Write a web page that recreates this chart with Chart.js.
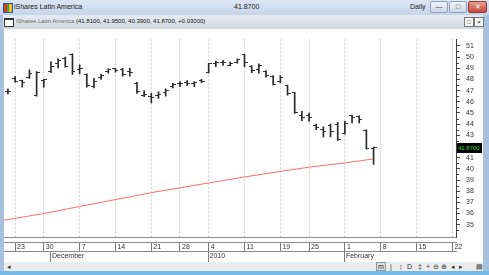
<!DOCTYPE html>
<html>
<head>
<meta charset="utf-8">
<script src="https://cdn.jsdelivr.net/npm/chart.js@4.4.1/dist/chart.umd.min.js"></script>
<style>
  html, body { margin: 0; padding: 0; }
  body {
    width: 489px; height: 275px; overflow: hidden; position: relative;
    background: #a7c0de;
    font-family: "Liberation Sans", Arial, sans-serif;
  }
  .abs { position: absolute; white-space: nowrap; }
  #titlebar { left: 0; top: 0; width: 489px; height: 15px; background: linear-gradient(#dbe6f3, #c5d5e9); }
  #titlebar .txt { font-size: 7px; color: #1b1b1b; top: 3px; }
  #appicon { left: 3px; top: 3px; width: 8px; height: 8px; border: 1px solid #3155a4;
    background: linear-gradient(90deg, #d8342c 0 33%, #3cae3c 33% 66%, #f0c020 66%); }
  .wbtn { top: 1px; height: 10px; border: 1px solid #8ea3bd; border-radius: 2px;
    background: linear-gradient(#eef3f9, #cdd9e8); font-size: 7px; line-height: 10px; text-align: center; color: #3a4a60; }
  #wclose { background: linear-gradient(#e8a090, #c9463a); border-color: #8e3a32; color: #fff; }
  #subbar { left: 3px; top: 15px; width: 480px; height: 14px; background: linear-gradient(#e6ebf1, #d2d9e2); }
  #subicon { left: 4px; top: 18px; width: 8px; height: 6px; border: 1px solid #333; border-top-width: 2px; background: #fff; }
  #subtxt { left: 16px; top: 18px; font-size: 6px; color: #6a6a6a; }
  #subtxt b { font-weight: normal; color: #111; }
  .sbtn { top: 17px; width: 8px; height: 8px; border: 1px solid #777; background: #f4f4f4;
    font-size: 6px; line-height: 8px; text-align: center; color: #222; }
  #chartbox { left: 4px; top: 29px; width: 479px; height: 233px; background: #fff; }
  #toolbar { left: 4px; top: 262px; width: 479px; height: 9px; background: #ececec; }
  #toolbar .ic { top: 0px; font-size: 7px; color: #333; line-height: 9px; }
  #bottomline { left: 0; top: 271px; width: 489px; height: 4px; background: #76b9e6; }
</style>
</head>
<body>
<div id="titlebar" class="abs">
  <div id="appicon" class="abs"></div>
  <div class="abs txt" style="left:14px;">iShares Latin America</div>
  <div class="abs txt" style="left:234px;">41.8700</div>
  <div class="abs txt" style="left:410px;">Daily</div>
  <div class="abs wbtn" style="left:430px; width:16px;">&#8212;</div>
  <div class="abs wbtn" style="left:449px; width:16px;">&#9633;</div>
  <div id="wclose" class="abs wbtn" style="left:468px; width:17px;">&#10005;</div>
</div>
<div id="subbar" class="abs"></div>
<div id="subicon" class="abs"></div>
<div id="subtxt" class="abs">iShares Latin America <b>(41.8100, 41.9500, 40.3900, 41.8700, +0.03000)</b></div>
<div class="abs sbtn" style="left:464px;">&#9633;</div>
<div class="abs sbtn" style="left:474px;">&#215;</div>
<div id="chartbox" class="abs"><canvas id="ohlcChart" width="479" height="233"></canvas></div>
<div id="toolbar" class="abs">
  <span class="abs ic" style="left:3px;">&#9666;</span>
  <span class="abs ic" style="left:372px; border:1px solid #999; background:#ddd; line-height:7px; padding:0 1px;">m</span>
  <span class="abs ic" style="left:386px;">|</span>
  <span class="abs ic" style="left:395px;">&#8597;</span>
  <span class="abs ic" style="left:403px;">D</span>
  <span class="abs ic" style="left:414px;">&#8225;</span>
  <span class="abs ic" style="left:422px;">+</span>
  <span class="abs ic" style="left:429px;">&#8854;</span>
  <span class="abs ic" style="left:437px;">&#8853;</span>
  <span class="abs ic" style="left:447px;">&#9666;</span>
  <span class="abs ic" style="left:455px;">&#9656;</span>
  <span class="abs ic" style="left:472px;">&#9636;</span>
</div>
<div id="bottomline" class="abs"></div>

<script>
// daily bars, Nov 20 2009 .. Feb 5 2010 (index = trading day)
const opens  = [46.9, 48.1, 47.9, 48.2, 46.6, 47.9, 48.7, 49.4, 49.9, 50.2,
                48.85, 48.4, 47.4, 48.15, 48.7, 48.95, 48.85, 48.75, 47.65, 46.6,
                46.5, 46.55, 46.8, 47.4, 47.6, 47.75, 47.6, 47.9, 48.6, 49.45,
                49.55, 49.25, 49.55, 50.2, 49.15, 48.85, 48.7, 48.3, 47.85, 47.45,
                46.8, 44.75, 44.8, 43.9, 43.5, 43.9, 44.0, 43.15, 44.75, 44.65,
                43.45, 41.81];
const highs  = [47.15, 48.25, 47.95, 48.85, 48.7, 48.0, 49.6, 49.85, 50.0, 50.3,
                49.3, 48.5, 48.1, 48.45, 48.95, 49.0, 49.0, 49.0, 47.75, 47.0,
                46.75, 46.9, 47.15, 47.65, 47.8, 47.9, 47.8, 48.0, 49.45, 49.65,
                49.7, 49.55, 49.85, 50.25, 49.25, 49.4, 48.8, 48.35, 48.35, 47.5,
                46.85, 45.15, 45.0, 44.0, 43.75, 44.0, 44.15, 44.25, 44.8, 44.75,
                43.5, 41.95];
const lows   = [46.7, 47.75, 47.3, 48.1, 46.5, 47.3, 48.6, 49.0, 49.1, 48.45,
                48.5, 47.3, 47.25, 48.0, 48.55, 48.65, 48.3, 48.3, 46.75, 46.45,
                45.9, 46.3, 46.5, 47.25, 47.35, 47.45, 47.35, 47.7, 48.55, 49.15,
                49.25, 49.2, 49.45, 49.15, 48.6, 48.55, 48.2, 47.5, 47.7, 46.6,
                44.95, 44.3, 44.25, 43.5, 42.85, 42.85, 42.55, 43.1, 44.1, 44.1,
                41.75, 40.39];
const closes = [46.9, 47.85, 47.75, 48.5, 48.6, 47.95, 49.15, 49.65, 49.2, 48.75,
                48.95, 47.45, 47.85, 48.35, 48.85, 48.8, 48.45, 48.6, 46.9, 46.65,
                46.35, 46.65, 47.0, 47.55, 47.65, 47.65, 47.7, 47.85, 49.4, 49.5,
                49.5, 49.4, 49.75, 49.55, 48.8, 49.25, 48.35, 47.55, 48.2, 46.7,
                45.0, 44.55, 44.55, 43.7, 43.3, 43.3, 42.6, 44.1, 44.6, 44.45,
                41.8, 41.87];

// moving average (red line), read at a few trading days
const maIdx    = [-1, 5, 10, 15, 20, 24, 28, 33, 38, 42, 47, 51];
const maValues = [35.36, 36.0, 36.63, 37.25, 37.87, 38.3, 38.74, 39.27, 39.77, 40.15, 40.53, 40.89];

// axis labels
const dateTickIdx    = [1, 5, 10, 15, 20, 24, 28, 33, 38, 42, 47, 52, 57, 62];
const dateTickLabels = ['23', '30', '7', '14', '21', '28', '4', '11', '19', '25', '1', '8', '15', '22'];
const monthTickIdx    = [6, 28, 47];
const monthTickLabels = ['December', '2010', 'February'];
const priceTicks = [35, 36, 37, 38, 39, 40, 41, 42, 43, 44, 45, 46, 47, 48, 49, 50, 51];

const lastClose = closes[closes.length - 1];
const xMin = -0.55, xMax = 62.5;

// small open / close tick marks used as point images
function tickImage(side) {
    const c = document.createElement('canvas');
    c.width = 6; c.height = 1;
    const g = c.getContext('2d');
    g.fillStyle = '#333';
    g.fillRect(side === 'left' ? 0 : 3, 0, 3, 1);
    return c;
}
const openTick = tickImage('left');
const closeTick = tickImage('right');

const uiFont = { family: '"Liberation Sans", Arial, sans-serif', size: 7 };

// price box, half-point ticks and blank strip above the date row
const decorPlugin = {
    id: 'decor',
    afterDraw(chart) {
        const ctx = chart.ctx;
        const area = chart.chartArea;
        const y = chart.scales.y;
        ctx.save();
        ctx.fillStyle = '#fff';
        ctx.fillRect(0, area.bottom + 1, area.right + 1, 4);
        ctx.fillStyle = '#8a8a8a';
        ctx.fillRect(0, area.bottom + 5, area.right + 1, 1);

        ctx.fillStyle = '#404040';
        priceTicks.forEach(v => {
            const my = Math.round(y.getPixelForValue(v - 0.5));
            if (my > area.top && my < area.bottom) ctx.fillRect(y.left + 1, my, 2, 1);
        });

        const py = Math.round(y.getPixelForValue(lastClose));
        ctx.fillStyle = '#000';
        ctx.fillRect(y.left + 1, py - 5, 25, 10);
        ctx.fillStyle = '#19e619';
        ctx.font = '6px "Liberation Sans", Arial, sans-serif';
        ctx.textBaseline = 'middle';
        ctx.fillText(lastClose.toFixed(4), y.left + 2, py);
        ctx.restore();
    }
};

new Chart(document.getElementById('ohlcChart').getContext('2d'), {
    type: 'line',
    data: {
        datasets: [{
            type: 'bar',
            label: 'range',
            data: highs.map((h, i) => ({ x: i, y: [lows[i], h] })),
            backgroundColor: '#2a2a2a',
            barThickness: 1,
            borderWidth: 0
        }, {
            label: 'open',
            data: opens.map((v, i) => ({ x: i, y: v })),
            showLine: false,
            pointStyle: openTick,
            pointRadius: 3
        }, {
            label: 'close',
            data: closes.map((v, i) => ({ x: i, y: v })),
            showLine: false,
            pointStyle: closeTick,
            pointRadius: 3
        }, {
            label: 'average',
            data: maIdx.map((v, i) => ({ x: v, y: maValues[i] })),
            borderColor: '#ff6b6b',
            borderWidth: 1,
            pointRadius: 0,
            tension: 0
        }]
    },
    options: {
        responsive: false,
        animation: false,
        events: [],
        layout: { padding: 0, autoPadding: false },
        plugins: { legend: { display: false }, tooltip: { enabled: false } },
        scales: {
            x: {
                type: 'linear', position: 'bottom', weight: 0,
                min: xMin, max: xMax, offset: false,
                afterBuildTicks: s => { s.ticks = dateTickIdx.map(v => ({ value: v })); },
                afterFit: s => { s.height = 14; },
                ticks: {
                    font: uiFont, color: '#333', padding: -8, align: 'start', labelOffset: 2,
                    maxRotation: 0, autoSkip: false,
                    callback: v => dateTickLabels[dateTickIdx.indexOf(v)]
                },
                grid: { color: '#d0d0d0', offset: false, tickLength: 14, tickColor: '#7a7a7a' },
                border: { color: '#8a8a8a', dash: [2, 2] }
            },
            month: {
                type: 'linear', position: 'bottom', weight: 1,
                min: xMin, max: xMax, offset: false,
                afterBuildTicks: s => { s.ticks = monthTickIdx.map(v => ({ value: v })); },
                afterFit: s => { s.height = 11; },
                ticks: {
                    font: uiFont, color: '#333', padding: -10, align: 'start', labelOffset: 1,
                    maxRotation: 0, autoSkip: false,
                    callback: v => monthTickLabels[monthTickIdx.indexOf(v)]
                },
                grid: { drawOnChartArea: false, offset: false, tickLength: 11, tickColor: '#7a7a7a' },
                border: { color: '#8a8a8a' }
            },
            y: {
                type: 'linear', position: 'right',
                min: 33.9, max: 51.6,
                afterBuildTicks: s => { s.ticks = priceTicks.map(v => ({ value: v })); },
                afterFit: s => { s.width = 27; },
                ticks: { font: uiFont, color: '#333', padding: 6 },
                grid: { drawOnChartArea: false, tickLength: 4, tickColor: '#404040' },
                border: { color: '#404040' }
            }
        }
    },
    plugins: [decorPlugin]
});
</script>
</body>
</html>
